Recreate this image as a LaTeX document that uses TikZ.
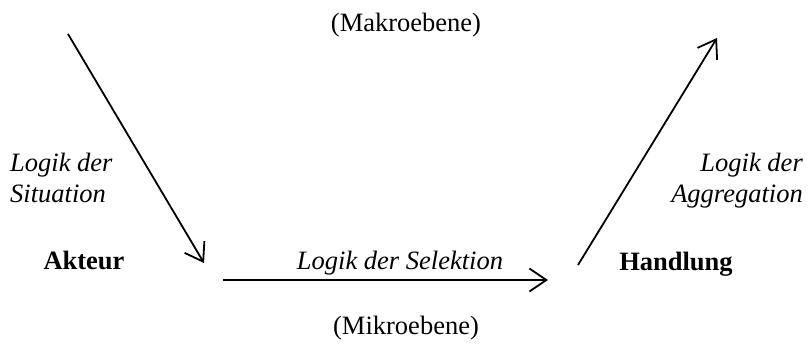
\documentclass[tikz,border=0pt]{standalone}
\usepackage{fontspec}
\setmainfont{Liberation Serif}
\usetikzlibrary{arrows.meta}
\begin{document}
\begin{tikzpicture}[x=1pt,y=-1pt,
  lbl/.style={inner sep=0pt,font=\fontsize{26.5}{30.5}\selectfont},
  conn/.style={line width=1.8pt,-{Straight Barb[length=17pt,width=23pt,line width=1.8pt]}}]
\useasboundingbox[fill=white] (0,0) rectangle (811,343);
\node[lbl,anchor=base] (makro) at (406,31) {(Makroebene)};
\node[lbl,anchor=base] (mikro) at (406,334) {(Mikroebene)};
\node[lbl,anchor=base west,align=left,font=\fontsize{26.5}{30.5}\selectfont\itshape] (sit) at (10,202) {Logik der\\Situation};
\node[lbl,anchor=base east,align=right,font=\fontsize{26.5}{30.5}\selectfont\itshape] (agg) at (803,202) {Logik der\\Aggregation};
\node[lbl,anchor=base,font=\fontsize{26.5}{30.5}\selectfont\bfseries] (akteur) at (84,269) {Akteur};
\node[lbl,anchor=base,font=\fontsize{26.5}{30.5}\selectfont\bfseries] (handlung) at (676,270) {Handlung};
\node[lbl,anchor=base,font=\fontsize{26.5}{30.5}\selectfont\itshape] (sel) at (400,269) {Logik der Selektion};
\coordinate (a1) at (68,34);
\coordinate (a2) at (204,263);
\coordinate (b1) at (223,280);
\coordinate (b2) at (548,280);
\coordinate (c1) at (578,265);
\coordinate (c2) at (717,38);
\draw[conn] (a1) -- (a2);
\draw[conn] (b1) -- (b2);
\draw[conn] (c1) -- (c2);
\end{tikzpicture}
\end{document}
